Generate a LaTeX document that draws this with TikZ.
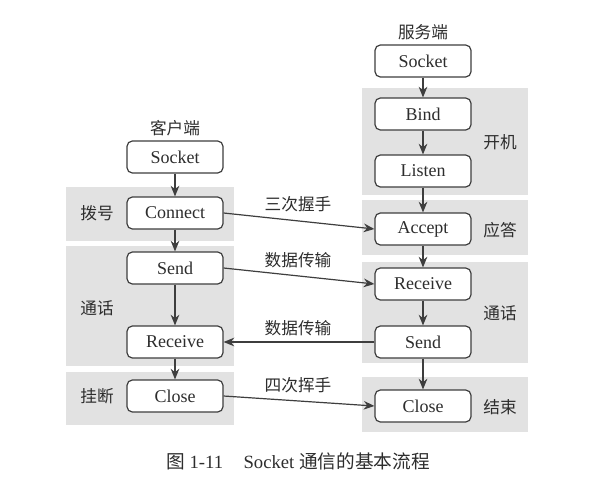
\documentclass[tikz,border=0pt]{standalone}
\usepackage{fontspec}
\setmainfont{Liberation Serif}
\newfontfamily\cjk{Noto Sans CJK SC}
\usetikzlibrary{arrows.meta}
\definecolor{bandc}{RGB}{226,226,226}
\definecolor{linec}{RGB}{62,62,62}
\definecolor{textc}{RGB}{45,45,45}
\begin{document}
\begin{tikzpicture}[x=0.75pt,y=-0.75pt,
 box/.style={draw=linec, fill=white, rounded corners=4pt, minimum width=72pt, minimum height=24pt, line width=0.9pt, font=\fontsize{13.5}{15}\selectfont, text=textc, inner sep=0pt},
 band/.style={fill=bandc, draw=none},
 lab/.style={font=\cjk\fontsize{12.5}{15}\selectfont, text=textc, inner sep=0pt},
 arr/.style={draw=linec, line width=0.9pt, -{Stealth[length=8pt,width=6.5pt]}},
]
\path[use as bounding box, fill=white] (0,0) rectangle (605,496);
% bands left
\fill[bandc] (66,187) rectangle (234,241);
\fill[bandc] (66,246) rectangle (234,366);
\fill[bandc] (66,372) rectangle (234,425);
% bands right
\fill[bandc] (362,88) rectangle (528,195);
\fill[bandc] (362,200) rectangle (528,255);
\fill[bandc] (362,262) rectangle (528,363);
\fill[bandc] (362,377) rectangle (528,432);
% band labels
\node[lab] (lb1) at (97,213) {拨号};
\node[lab] (lb2) at (97,308) {通话};
\node[lab] (lb3) at (97,396) {挂断};
\node[lab] (rb1) at (500,142) {开机};
\node[lab] (rb2) at (500,230) {应答};
\node[lab] (rb3) at (500,313) {通话};
\node[lab] (rb4) at (500,407) {结束};
% column titles
\node[lab] (ct) at (175,128) {客户端};
\node[lab] (st) at (423,32) {服务端};
% client boxes
\node[box] (cs) at (175,157) {Socket};
\node[box] (cc) at (175,213) {Connect};
\node[box] (csd) at (175,268) {Send};
\node[box] (cr) at (175,342) {Receive};
\node[box] (ccl) at (175,396) {Close};
% server boxes
\node[box] (ss) at (423,61) {Socket};
\node[box] (sb) at (423,114) {Bind};
\node[box] (sl) at (423,171) {Listen};
\node[box] (sa) at (423,229) {Accept};
\node[box] (sr) at (423,284) {Receive};
\node[box] (ssd) at (423,342) {Send};
\node[box] (scl) at (423,406) {Close};
% vertical arrows
\draw[arr] (cs) -- (cc);
\draw[arr] (cc) -- (csd);
\draw[arr] (csd) -- (cr);
\draw[arr] (cr) -- (ccl);
\draw[arr] (ss) -- (sb);
\draw[arr] (sb) -- (sl);
\draw[arr] (sl) -- (sa);
\draw[arr] (sa) -- (sr);
\draw[arr] (sr) -- (ssd);
\draw[arr] (ssd) -- (scl);
% cross arrows
\draw[arr] (cc.east) -- (sa.west);
\draw[arr] (csd.east) -- (sr.west);
\draw[arr] (ssd.west) -- (cr.east);
\draw[arr] (ccl.east) -- (scl.west);
\node[lab] (m1) at (298,204) {三次握手};
\node[lab] (m2) at (298,260) {数据传输};
\node[lab] (m3) at (298,328) {数据传输};
\node[lab] (m4) at (298,385) {四次挥手};
% caption
\node[text=textc, inner sep=0pt, font=\fontsize{14}{16}\selectfont] (cap) at (298,461) {{\cjk 图} 1-11\hspace{1.1em}Socket {\cjk 通信的基本流程}};
\end{tikzpicture}
\end{document}
